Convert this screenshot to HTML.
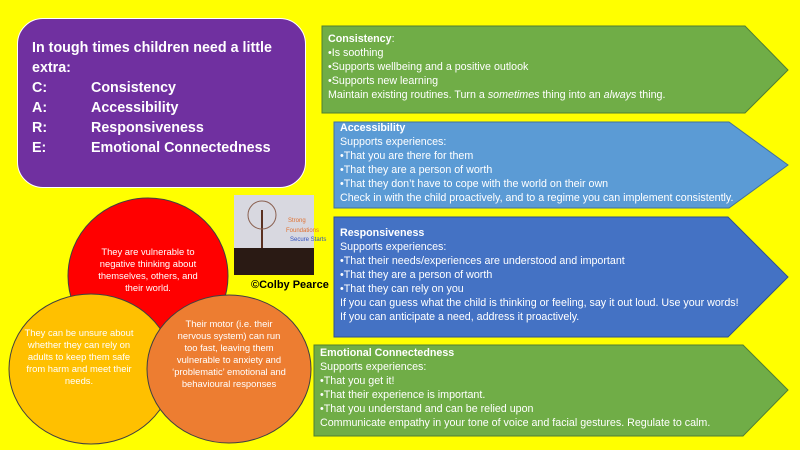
<!DOCTYPE html>
<html><head><meta charset="utf-8"><style>
body{margin:0;width:800px;height:450px;background:#ffff00;position:relative;overflow:hidden;font-family:"Liberation Sans",sans-serif}
.p{position:absolute;left:17px;top:18px;width:289px;height:170px;background:#7030a0;border:1px solid #fff;border-radius:26px;box-sizing:border-box}
.pt{position:absolute;left:32px;top:38px;color:#fff;font-weight:bold;font-size:14.3px;line-height:20px}
.pt span{display:inline-block;width:59px}
.t{position:absolute;color:#fff;font-size:10.7px;line-height:14px;white-space:nowrap}
.c{position:absolute;color:#fff;font-size:9.4px;line-height:12px;text-align:center}
</style></head><body>
<div class="p"></div>
<div class="pt">In tough times children need a little<br>extra:<br><span>C:</span>Consistency<br><span>A:</span>Accessibility<br><span>R:</span>Responsiveness<br><span>E:</span>Emotional Connectedness</div>
<svg width="800" height="450" style="position:absolute;left:0;top:0">
<g stroke="#2f528f" stroke-width="1">
<polygon points="322,26 745,26 788,70 745,113 322,113" fill="#70ad47" stroke="#507e32"/>
<polygon points="334,122 729,122 788,165 729,208 334,208" fill="#5b9bd5" stroke="#41719c"/>
<polygon points="334,217 728,217 788,277 728,337 334,337" fill="#4472c4"/>
<polygon points="314,345 743,345 788,390 743,436 314,436" fill="#70ad47" stroke="#507e32"/>
<ellipse cx="148" cy="276" rx="80" ry="78" fill="#ff0000" stroke="#404040"/>
<ellipse cx="91" cy="369" rx="82" ry="75" fill="#ffc000" stroke="#404040"/>
<ellipse cx="229" cy="369" rx="82" ry="74" fill="#ed7d31" stroke="#404040"/>
</g>
<rect x="234" y="195" width="80" height="80" fill="#d8d8e0"/>
<rect x="234" y="248" width="80" height="27" fill="#2a1a14"/>
<line x1="262" y1="248" x2="262" y2="210" stroke="#5a3020" stroke-width="2"/>
<circle cx="262" cy="215" r="14" fill="none" stroke="#8a6050" stroke-width="1"/>
<text x="288" y="222" fill="#e07030" font-size="6" font-family="Liberation Sans">Strong</text>
<text x="286" y="232" fill="#e07030" font-size="6" font-family="Liberation Sans">Foundations</text>
<text x="290" y="241" fill="#3050c0" font-size="6" font-family="Liberation Sans">Secure Starts</text>
</svg>
<div style="position:absolute;left:251px;top:279px;font-size:11px;font-weight:bold;color:#000">©Colby Pearce</div>
<div class="c" style="left:88px;top:246px;width:120px">They are vulnerable to negative thinking about themselves, others, and their world.</div>
<div class="c" style="left:20px;top:327px;width:118px">They can be unsure about whether they can rely on adults to keep them safe from harm and meet their needs.</div>
<div class="c" style="left:172px;top:318px;width:114px">Their motor (i.e. their nervous system) can run too fast, leaving them vulnerable to anxiety and ‘problematic’ emotional and behavioural responses</div>
<div class="t" style="left:328px;top:32px"><b>Consistency</b>:<br>•Is soothing<br>•Supports wellbeing and a positive outlook<br>•Supports new learning<br>Maintain existing routines. Turn a <i>sometimes</i> thing into an <i>always</i> thing.</div>
<div class="t" style="left:340px;top:121px"><b>Accessibility</b><br>Supports experiences:<br>•That you are there for them<br>•That they are a person of worth<br>•That they don’t have to cope with the world on their own<br>Check in with the child proactively, and to a regime you can implement consistently.</div>
<div class="t" style="left:340px;top:226px"><b>Responsiveness</b><br>Supports experiences:<br>•That their needs/experiences are understood and important<br>•That they are a person of worth<br>•That they can rely on you<br>If you can guess what the child is thinking or feeling, say it out loud. Use your words!<br>If you can anticipate a need, address it proactively.</div>
<div class="t" style="left:320px;top:346px"><b>Emotional Connectedness</b><br>Supports experiences:<br>•That you get it!<br>•That their experience is important.<br>•That you understand and can be relied upon<br>Communicate empathy in your tone of voice and facial gestures. Regulate to calm.</div>
</body></html>
